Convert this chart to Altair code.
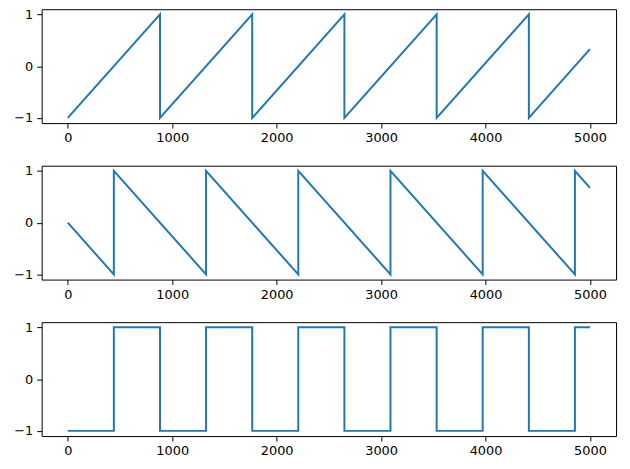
import altair as alt
import pandas as pd

# Panel 1: rising sawtooth (vertices)
x1 = [0, 883, 883, 1766, 1766, 2649, 2649, 3532, 3532, 4415, 4415, 5000]
y1 = [-1, 1, -1, 1, -1, 1, -1, 1, -1, 1, -1, 0.33]

# Panel 2: falling sawtooth, half-period offset
x2 = [0, 441, 441, 1324, 1324, 2207, 2207, 3090, 3090, 3973, 3973, 4856, 4856, 5000]
y2 = [0, -1, 1, -1, 1, -1, 1, -1, 1, -1, 1, -1, 1, 0.67]

# Panel 3: square wave
x3 = [0, 441, 441, 883, 883, 1324, 1324, 1766, 1766, 2207, 2207, 2649, 2649,
      3090, 3090, 3532, 3532, 3973, 3973, 4415, 4415, 4856, 4856, 5000]
y3 = [-1, -1, 1, 1, -1, -1, 1, 1, -1, -1, 1, 1, -1, -1, 1, 1, -1, -1, 1, 1,
      -1, -1, 1, 1]

x_ticks = [0, 1000, 2000, 3000, 4000, 5000]
y_ticks = [-1, 0, 1]

COLOR = "#1f77b4"
W, H = 580, 115


def panel(xs, ys):
    df = pd.DataFrame({"x": xs, "y": ys, "i": list(range(len(xs)))})
    return alt.Chart(df).mark_line(color=COLOR, strokeWidth=2, clip=True).encode(
        x=alt.X("x:Q", scale=alt.Scale(domain=[-250, 5250], nice=False, zero=False),
                axis=alt.Axis(values=x_ticks, title=None, grid=False, format="d")),
        y=alt.Y("y:Q", scale=alt.Scale(domain=[-1.1, 1.1], nice=False, zero=False),
                axis=alt.Axis(values=y_ticks, title=None, grid=False, format="d")),
        order=alt.Order("i:Q"),
    ).properties(width=W, height=H)


chart = alt.vconcat(panel(x1, y1), panel(x2, y2), panel(x3, y3), spacing=18).properties(
    padding={"left": 5, "top": -3, "right": 5, "bottom": 5}
).configure(
    background="white"
).configure_view(
    stroke="black", strokeWidth=1
).configure_axis(
    domain=False,
    tickColor="black", tickSize=5, tickWidth=1,
    labelColor="black", labelFont="DejaVu Sans", labelFontSize=13, labelPadding=4,
)

chart.save("out.html", embed_options={"renderer": "svg", "actions": False})
